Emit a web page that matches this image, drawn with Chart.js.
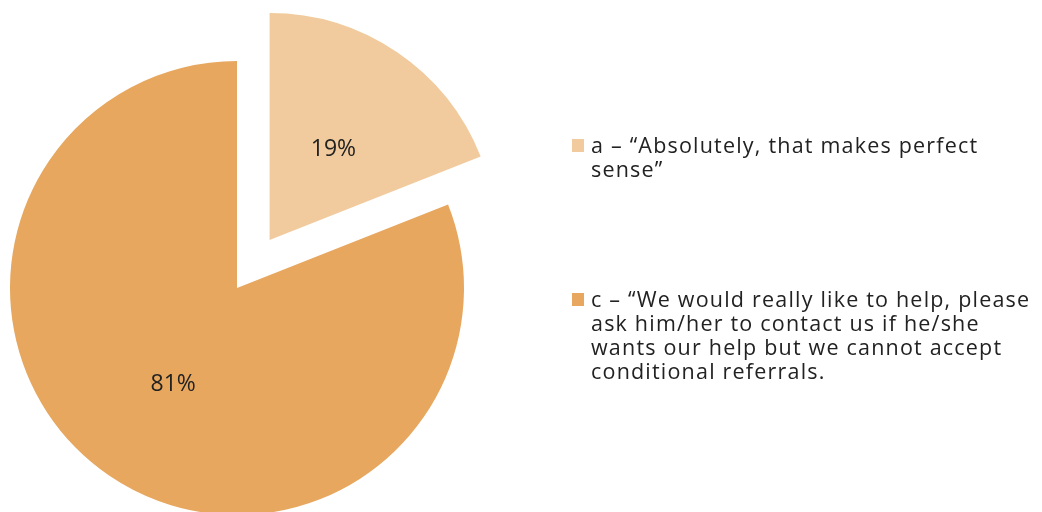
<!DOCTYPE html>
<html>
<head>
<meta charset="utf-8">
<script src="https://cdn.jsdelivr.net/npm/chart.js@4.4.0/dist/chart.umd.min.js"></script>
<style>
  html, body { margin: 0; padding: 0; background: #fff; overflow: hidden; }
  #wrap { position: relative; width: 1042px; height: 512px; }
  #chart1 { position: absolute; left: 0; top: 0; }
  .legend { position: absolute; left: 572px; font-family: "Open Sans", sans-serif; font-size: 21.5px; line-height: 24px; color: #222; letter-spacing: 1.2px; }
  .item { position: absolute; left: 0; white-space: nowrap; }
  .box { position: absolute; left: 0; top: 6px; width: 12px; height: 13px; }
  .txt { position: absolute; left: 19px; top: 0; }
</style>
</head>
<body>
<div id="wrap">
  <canvas id="chart1" width="1042" height="512"></canvas>
  <div class="legend" id="legend"></div>
</div>
<script>
const categories = [
    'a – “Absolutely, that makes perfect\nsense”',
    'c – “We would really like to help, please\nask him/her to contact us if he/she\nwants our help but we cannot accept\nconditional referrals.'
];
const shares = [19, 81];
const colors = ['#F1CB9D', '#E7A75F'];
const explode = [58, 0];
const legendTops = [133, 287];

// push exploded slices out along their middle angle
const explodePlugin = {
    id: 'explode',
    afterDatasetUpdate(chart, args) {
        args.meta.data.forEach((arc, i) => {
            const mid = (arc.startAngle + arc.endAngle) / 2;
            arc.x += Math.cos(mid) * explode[i];
            arc.y += Math.sin(mid) * explode[i];
        });
    }
};

const labelPlugin = {
    id: 'pctLabels',
    afterDatasetsDraw(chart) {
        const ctx = chart.ctx;
        const meta = chart.getDatasetMeta(0);
        ctx.save();
        ctx.font = '23px "Open Sans", sans-serif';
        ctx.fillStyle = '#222';
        ctx.textAlign = 'center';
        ctx.textBaseline = 'middle';
        meta.data.forEach((arc, i) => {
            const mid = (arc.startAngle + arc.endAngle) / 2;
            const r = arc.outerRadius * 0.5;
            ctx.fillText(shares[i] + '%', arc.x + Math.cos(mid) * r, arc.y + Math.sin(mid) * r + 3);
        });
        ctx.restore();
    }
};

const chart1Ctx = document.getElementById("chart1").getContext("2d");
const chart1 = new Chart(chart1Ctx, {
    type: 'pie',
    data: {
        labels: categories,
        datasets: [{
            data: shares,
            backgroundColor: colors,
            borderWidth: 0
        }]
    },
    options: {
        responsive: false,
        animation: false,
        radius: 227,
        layout: { padding: { left: 0, right: 568, top: 64, bottom: 0 } },
        plugins: {
            legend: { display: false },
            tooltip: { enabled: false }
        }
    },
    plugins: [explodePlugin, labelPlugin]
});

// html legend so the long labels can wrap like the original
const legend = document.getElementById("legend");
categories.forEach((label, i) => {
    const item = document.createElement("div");
    item.className = "item";
    item.style.top = legendTops[i] + "px";
    const box = document.createElement("div");
    box.className = "box";
    box.style.background = colors[i];
    const txt = document.createElement("div");
    txt.className = "txt";
    txt.innerHTML = label.split("\n").map(s => s.replace(/&/g, "&amp;").replace(/</g, "&lt;")).join("<br>");
    item.appendChild(box);
    item.appendChild(txt);
    legend.appendChild(item);
});
</script>
</body>
</html>
